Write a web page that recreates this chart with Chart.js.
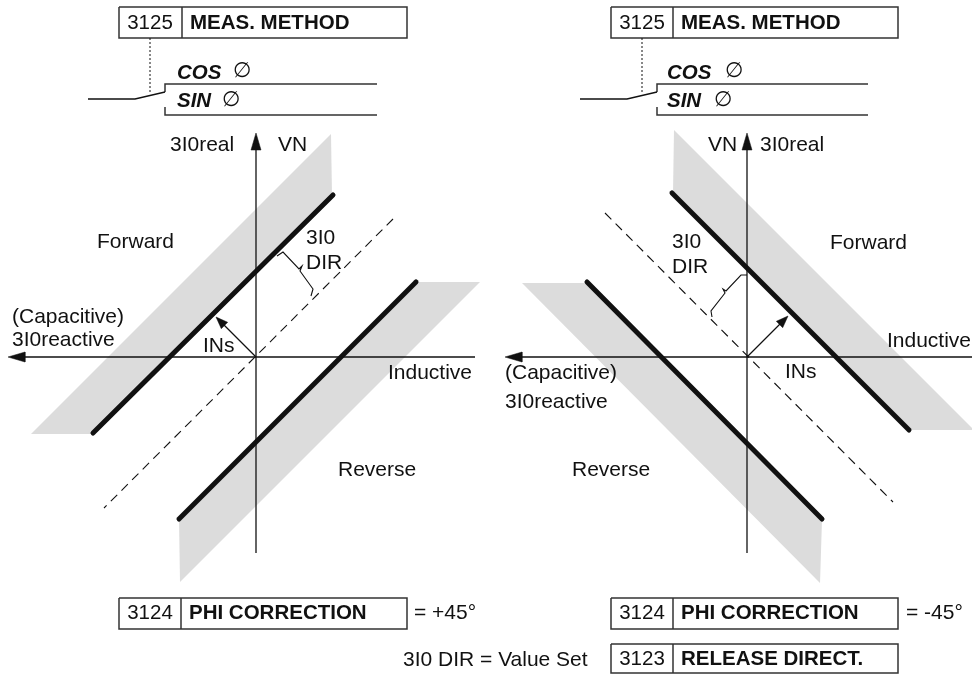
<!DOCTYPE html>
<html>
<head>
<meta charset="utf-8">
<script src="https://cdn.jsdelivr.net/npm/chart.js@4"></script>
<style>
  html, body { margin: 0; padding: 0; background: #fff; }
  #wrap { width: 972px; height: 675px; position: relative; }
</style>
</head>
<body>
<div id="wrap"><canvas id="c"></canvas></div>
<script>
// ---------- diagram geometry (data space = 972 x 675, y downward) ----------
// Left diagram (PHI CORRECTION = +45°)
const leftRealAxis      = [{x:256,y:553},{x:256,y:133}];
const leftReactiveAxis  = [{x:475,y:357},{x:8,y:357}];
const leftForwardLimit  = [{x:333,y:195},{x:93,y:433}];
const leftReverseLimit  = [{x:416,y:282},{x:179,y:519}];
const leftForwardBand   = [{x:332,y:196},{x:93,y:434},{x:31,y:434},{x:331,y:134},{x:332,y:196}];
const leftReverseBand   = [{x:416,y:282},{x:480,y:282},{x:180,y:582},{x:179,y:519},{x:416,y:282}];
const leftDirLine       = [{x:393,y:219},{x:104,y:508}];
const leftINs           = [{x:256,y:357},{x:216,y:317}];
const leftBrace         = [{x:277,y:256},{x:283,y:252},{x:299,y:269},{x:302,y:266},{x:300,y:271},{x:313,y:289},{x:311,y:296}];
const leftSwitch        = [{x:88,y:99},{x:135,y:99},{x:165,y:92}];
const leftCosRail       = [{x:165,y:92},{x:165,y:84},{x:377,y:84}];
const leftSinRail       = [{x:165,y:107},{x:165,y:115},{x:377,y:115}];
const leftLink          = [{x:150,y:38},{x:150,y:93}];

// Right diagram (PHI CORRECTION = -45°)
const rightRealAxis     = [{x:747,y:553},{x:747,y:133}];
const rightReactiveAxis = [{x:972,y:357},{x:505,y:357}];
const rightForwardLimit = [{x:672,y:193},{x:909,y:430}];
const rightReverseLimit = [{x:587,y:282},{x:822,y:519}];
const rightForwardBand  = [{x:673,y:193},{x:674,y:130},{x:974,y:430},{x:909,y:430},{x:673,y:193}];
const rightReverseBand  = [{x:587,y:283},{x:522,y:283},{x:820,y:583},{x:822,y:519},{x:587,y:283}];
const rightDirLine      = [{x:605,y:213},{x:893,y:502}];
const rightINs          = [{x:747,y:357},{x:788,y:316}];
const rightBrace        = [{x:747,y:275},{x:741,y:275},{x:726,y:291},{x:723,y:289},{x:725,y:293},{x:711,y:311},{x:712,y:317}];
const rightSwitch       = [{x:580,y:99},{x:627,y:99},{x:657,y:92}];
const rightCosRail      = [{x:657,y:92},{x:657,y:84},{x:868,y:84}];
const rightSinRail      = [{x:657,y:107},{x:657,y:115},{x:868,y:115}];
const rightLink         = [{x:642,y:38},{x:642,y:93}];

// Parameter boxes: [left, top, right, bottom, divider]
const boxes = [
  [119,7,407,38,182],
  [611,7,898,38,673],
  [119,598,407,629,181],
  [611,598,898,629,673],
  [611,644,898,673,673]
];

// Text labels: [text, x, y, style]
const labels = [
  ['3I0real',170,145,'n'], ['VN',278,145,'n'], ['Forward',97,242,'n'],
  ['3I0',306,238,'n'], ['DIR',306,263,'n'],
  ['(Capacitive)',12,317,'n'], ['3I0reactive',12,340,'n'],
  ['INs',203,346,'n'], ['Inductive',388,373,'n'], ['Reverse',338,470,'n'],
  ['3125',150,23,'c'], ['MEAS. METHOD',190,23,'b'],
  ['COS',177,73,'bi'], ['\u2205',233,72,'i'], ['SIN',177,101,'bi'], ['\u2205',222,101,'i'],
  ['3124',150,613,'c'], ['PHI CORRECTION',189,613,'b'], ['= +45°',414,613,'n'],

  ['VN',708,145,'n'], ['3I0real',760,145,'n'], ['Forward',830,243,'n'],
  ['3I0',672,242,'n'], ['DIR',672,267,'n'],
  ['Inductive',887,341,'n'], ['(Capacitive)',505,373,'n'], ['3I0reactive',505,402,'n'],
  ['INs',785,372,'n'], ['Reverse',572,470,'n'],
  ['3125',642,23,'c'], ['MEAS. METHOD',681,23,'b'],
  ['COS',667,73,'bi'], ['\u2205',725,72,'i'], ['SIN',667,101,'bi'], ['\u2205',714,101,'i'],
  ['3124',642,613,'c'], ['PHI CORRECTION',681,613,'b'], ['= -45°',906,613,'n'],
  ['3I0 DIR = Value Set',403,660,'n'],
  ['3123',642,659,'c'], ['RELEASE DIRECT.',681,659,'b']
];

// ---------- dataset builders ----------
const INK = '#111111';
const GRAY = '#dcdcdc';
function line(points, opts) {
  return Object.assign({
    data: points, showLine: true, pointRadius: 0, pointHoverRadius: 0,
    borderColor: INK, borderWidth: 1.3, fill: false, tension: 0, order: 1,
    borderCapStyle: 'butt', borderJoinStyle: 'miter'
  }, opts || {});
}
function band(points) {
  return line(points, {borderWidth: 0, borderColor: 'rgba(0,0,0,0)', backgroundColor: GRAY, fill: 'shape', order: 5});
}
// arrowhead at the last point of a segment
function head(seg, len, half) {
  const a = seg[0], b = seg[seg.length - 1];
  const dx = b.x - a.x, dy = b.y - a.y, L = Math.hypot(dx, dy);
  const ux = dx / L, uy = dy / L;
  const bx = b.x - ux * len, by = b.y - uy * len;
  const pts = [{x:b.x,y:b.y},{x:bx - uy*half,y:by + ux*half},{x:bx + uy*half,y:by - ux*half},{x:b.x,y:b.y}];
  return line(pts, {borderWidth: 0.5, backgroundColor: INK, fill: 'shape', order: 0});
}
// shorten segment end so the line doesn't poke through the arrow tip
function trimmed(seg, d) {
  const a = seg[0], b = seg[1];
  const dx = b.x - a.x, dy = b.y - a.y, L = Math.hypot(dx, dy);
  return [a, {x: b.x - dx / L * d, y: b.y - dy / L * d}];
}
function rect(b) {
  return [
    line([{x:b[0],y:b[1]},{x:b[2],y:b[1]},{x:b[2],y:b[3]},{x:b[0],y:b[3]},{x:b[0],y:b[1]}], {borderWidth: 1.5, borderColor: '#333'}),
    line([{x:b[4],y:b[1]},{x:b[4],y:b[3]}], {borderWidth: 1.5, borderColor: '#333'})
  ];
}

const datasets = [
  band(leftForwardBand), band(leftReverseBand), band(rightForwardBand), band(rightReverseBand),
  line(leftDirLine, {borderDash: [9, 6], borderWidth: 1.1}),
  line(rightDirLine, {borderDash: [9, 6], borderWidth: 1.1}),
  line(trimmed(leftRealAxis, 10)), head(leftRealAxis, 17, 5),
  line(trimmed(leftReactiveAxis, 10)), head(leftReactiveAxis, 17, 5),
  line(trimmed(rightRealAxis, 10)), head(rightRealAxis, 17, 5),
  line(trimmed(rightReactiveAxis, 10)), head(rightReactiveAxis, 17, 5),
  line(leftForwardLimit, {borderWidth: 5, borderCapStyle: 'round'}),
  line(leftReverseLimit, {borderWidth: 5, borderCapStyle: 'round'}),
  line(rightForwardLimit, {borderWidth: 5, borderCapStyle: 'round'}),
  line(rightReverseLimit, {borderWidth: 5, borderCapStyle: 'round'}),
  line(trimmed(leftINs, 6), {borderWidth: 1.2}), head(leftINs, 12, 4.5),
  line(trimmed(rightINs, 6), {borderWidth: 1.2}), head(rightINs, 12, 4.5),
  line(leftBrace, {borderWidth: 1.1}), line(rightBrace, {borderWidth: 1.1}),
  line(leftSwitch, {borderWidth: 1.3}), line(leftCosRail, {borderWidth: 1.5, borderColor: '#333'}), line(leftSinRail, {borderWidth: 1.5, borderColor: '#333'}),
  line(rightSwitch, {borderWidth: 1.3}), line(rightCosRail, {borderWidth: 1.5, borderColor: '#333'}), line(rightSinRail, {borderWidth: 1.5, borderColor: '#333'}),
  line(leftLink, {borderDash: [2, 2], borderWidth: 1}), line(rightLink, {borderDash: [2, 2], borderWidth: 1})
];
boxes.forEach(b => datasets.push(...rect(b)));

const FONT = '"Liberation Sans", Arial, Helvetica, sans-serif';
const textPlugin = {
  id: 'diagramText',
  afterDatasetsDraw(chart) {
    const ctx = chart.ctx, xs = chart.scales.x, ys = chart.scales.y;
    ctx.save();
    ctx.fillStyle = INK;
    ctx.textBaseline = 'middle';
    labels.forEach(([t, x, y, s]) => {
      let f = '21px ' + FONT;
      if (s === 'c') f = '20.5px ' + FONT;
      if (s === 'b') f = 'bold 20.5px ' + FONT;
      if (s === 'bi') f = 'italic bold 20.5px ' + FONT;
      if (s === 'i') f = 'italic 21px "DejaVu Sans", ' + FONT;
      ctx.font = f;
      ctx.textAlign = s === 'c' ? 'center' : 'left';
      ctx.fillText(t, xs.getPixelForValue(x), ys.getPixelForValue(y));
    });
    ctx.restore();
  }
};

new Chart(document.getElementById('c'), {
  type: 'scatter',
  data: { datasets },
  options: {
    responsive: true, maintainAspectRatio: false, animation: false,
    layout: { padding: 0 },
    plugins: { legend: { display: false }, tooltip: { enabled: false }, title: { display: false } },
    events: [],
    scales: {
      x: { type: 'linear', min: 0, max: 972, display: false },
      y: { type: 'linear', min: 0, max: 675, reverse: true, display: false }
    }
  },
  plugins: [textPlugin]
});
</script>
</body>
</html>
